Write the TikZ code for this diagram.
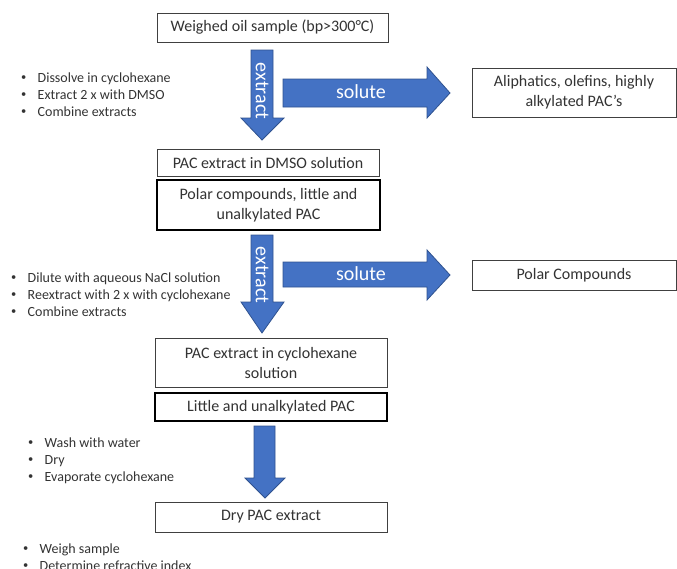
\documentclass[tikz,border=0pt]{standalone}
\usepackage{fontspec}
\setmainfont{Carlito}
\definecolor{arrowfill}{HTML}{4472C4}
\definecolor{arrowline}{HTML}{2F528F}
\definecolor{boxline}{HTML}{404040}
\newcommand{\stepitem}{\makebox[16.5pt][l]{\raisebox{0.35ex}{\scalebox{0.75}{•}}}}
\begin{document}
\begin{tikzpicture}[x=1pt,y=-1pt,
  box/.style={draw=boxline,line width=0.9pt,fill=white,inner sep=0pt,align=center,
    font=\fontsize{16}{20}\selectfont,text=black!80},
  thickbox/.style={box,draw=black,line width=2.4pt},
  bigarrow/.style={fill=arrowfill,draw=arrowline,line width=0.8pt,line join=miter},
  arrowtext/.style={text=white,font=\fontsize{20}{24}\selectfont,inner sep=0pt},
  steps/.style={anchor=north west,align=left,inner sep=0pt,
    font=\fontsize{14}{17}\selectfont,text=black!80}]
\useasboundingbox (0,0) rectangle (677,568);

% process boxes
\node[box,minimum width=231pt,minimum height=29pt] (oil) at (272.5,27.5) {Weighed oil sample (bp>300°C)};
\node[box,minimum width=204pt,minimum height=49pt] (aliph) at (574,92.5) {Aliphatics, olefins, highly\\alkylated PAC’s};
\node[box,minimum width=222pt,minimum height=27pt] (dmso) at (268,162.5) {PAC extract in DMSO solution};
\node[thickbox,minimum width=223pt,minimum height=50pt] (polarpac) at (268.5,205) {Polar compounds, little and\\unalkylated PAC};
\node[box,minimum width=204pt,minimum height=30pt] (polar) at (574,275) {Polar Compounds};
\node[box,minimum width=232pt,minimum height=49pt] (cyclo) at (271,362.5) {PAC extract in cyclohexane\\solution};
\node[thickbox,minimum width=232pt,minimum height=28pt] (little) at (271,407) {Little and unalkylated PAC};
\node[box,minimum width=232pt,minimum height=30pt] (dry) at (271,517) {Dry PAC extract};

% block arrows: extraction steps (down) and solute streams (right)
\draw[bigarrow] (251,50) -- (273,50) -- (273,118) -- (284,118) -- (262,140) -- (241,118) -- (251,118) -- cycle;
\node[arrowtext,rotate=-90] (ex1) at (262,91) {extract};
\draw[bigarrow] (283,79) -- (427,79) -- (427,67) -- (450,93) -- (427,118) -- (427,107) -- (283,107) -- cycle;
\node[arrowtext] (so1) at (361,92) {solute};

\draw[bigarrow] (251,235) -- (273,235) -- (273,302) -- (284,302) -- (262,333) -- (241,302) -- (251,302) -- cycle;
\node[arrowtext,rotate=-90] (ex2) at (262,275) {extract};
\draw[bigarrow] (283,262) -- (427,262) -- (427,250) -- (450,275) -- (427,300) -- (427,287) -- (283,287) -- cycle;
\node[arrowtext] (so2) at (361,274) {solute};

\draw[bigarrow] (254,426) -- (275,426) -- (275,478) -- (285,478) -- (265,498) -- (245,478) -- (254,478) -- cycle;

% working steps
\node[steps] (s1) at (21,73) {\stepitem Dissolve in cyclohexane\\
  \stepitem Extract 2 x with DMSO\\
  \stepitem Combine extracts};
\node[steps] (s2) at (11,273) {\stepitem Dilute with aqueous NaCl solution\\
  \stepitem Reextract with 2 x with cyclohexane\\
  \stepitem Combine extracts};
\node[steps] (s3) at (28,438) {\stepitem Wash with water\\
  \stepitem Dry\\
  \stepitem Evaporate cyclohexane};
\node[steps] (s4) at (23,544) {\stepitem Weigh sample\\
  \stepitem Determine refractive index};
\end{tikzpicture}
\end{document}
